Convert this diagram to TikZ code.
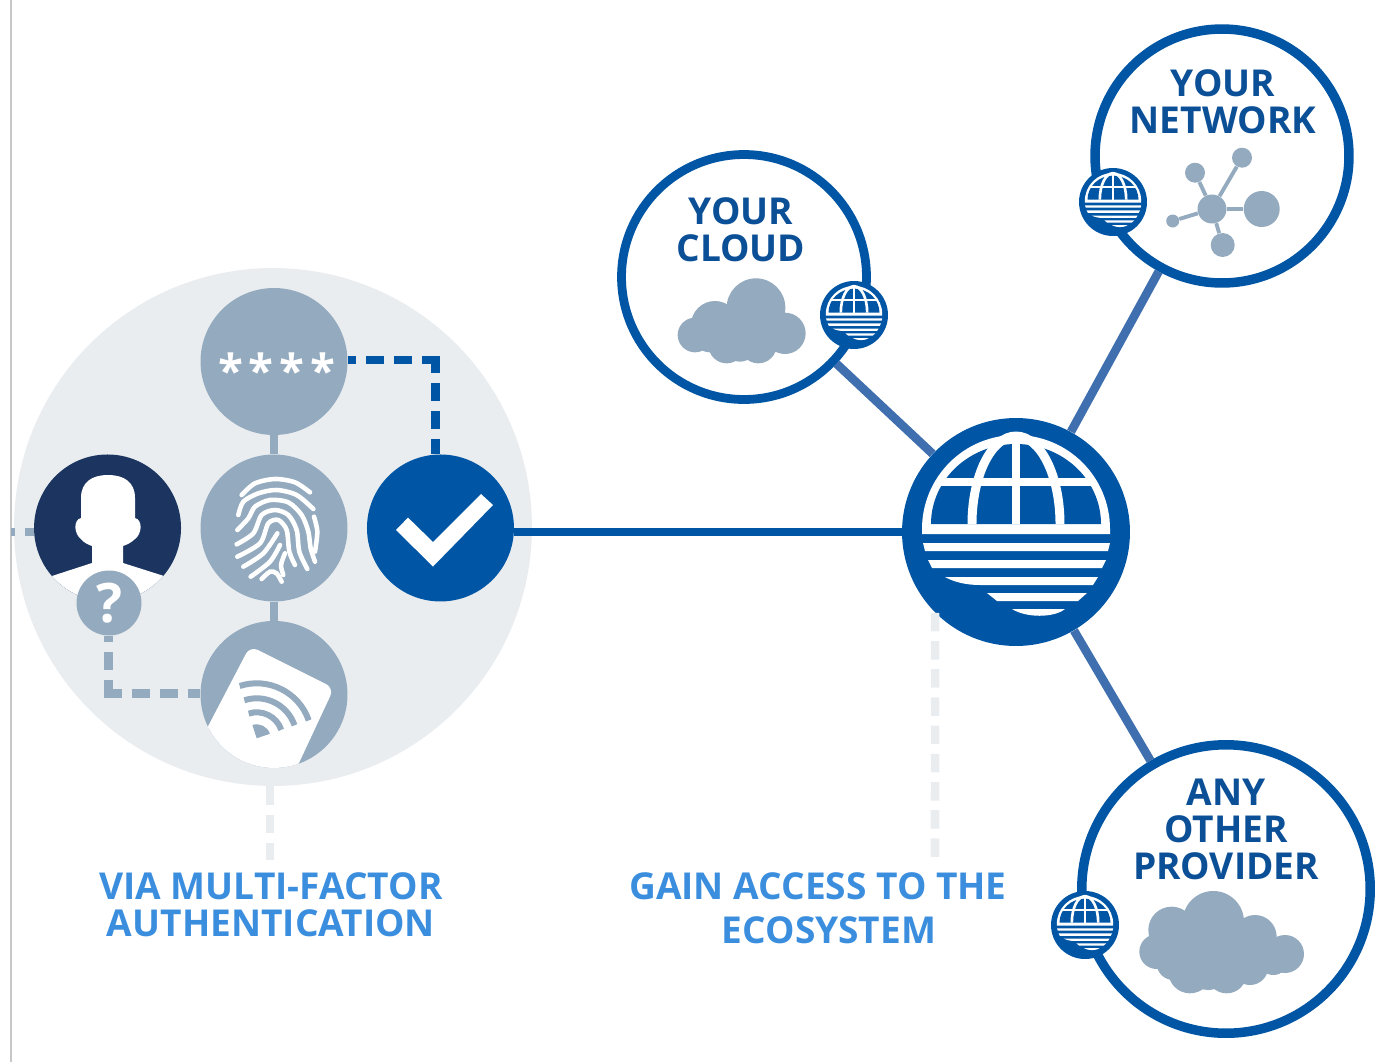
\documentclass[tikz,border=0pt]{standalone}
\usepackage{fontspec}
\setmainfont{Open Sans}
\usepackage{xcolor}
\usepackage{tikz}
\usetikzlibrary{shapes}
\definecolor{hubblue}{HTML}{0055A4}
\definecolor{spokeblue}{HTML}{3F6FAE}
\definecolor{greyblue}{HTML}{94AABF}
\definecolor{palegrey}{HTML}{E9EDF0}
\definecolor{navyblue}{HTML}{1C3560}
\definecolor{labelblue}{HTML}{3B8EDE}
\definecolor{titleblue}{HTML}{0B4F97}
\tikzstyle{disc} = [circle, inner sep=0pt, minimum size=2.94cm, fill=greyblue, text=white]
\tikzstyle{ring} = [circle, inner sep=0pt, draw=hubblue, fill=white, line width=5.4pt]
\tikzstyle{globedisc} = [circle, inner sep=0pt, minimum size=1.36cm, fill=hubblue]
\tikzstyle{title} = [align=center, text=titleblue, font=\bfseries\fontsize{21.1pt}{21pt}\selectfont]
\tikzstyle{label} = [align=center, text=labelblue, font=\bfseries\fontsize{21.1pt}{21pt}\selectfont]
\tikzstyle{bar} = [line width=4.9pt]
\tikzstyle{dashbar} = [bar, dash pattern=on 0.37cm off 0.194cm]
\tikzstyle{ridge} = [draw=white, line width=2.6pt, line cap=round]
\tikzset{pics/globe/.style={code={
  \fill [white] (-94,2) -- (-94,-3) arc[start angle=180, end angle=360, x radius=94, y radius=94] -- (94,2) -- cycle;
  \fill [hubblue] (-85,-8) arc[start angle=180, end angle=360, x radius=85, y radius=80] -- cycle;
  \draw [white, line width=#1pt] (-76,-50) -- (76,-50);
  \draw [white, line width=#1pt] (0,-8) -- (0,-92);
  \draw [white, line width=#1pt] (-44,-8) arc[start angle=180, end angle=360, x radius=44, y radius=88];
  \fill [white] (-93,11) -- (94,11) -- (92,19) -- (-91,19) -- cycle;
  \fill [white] (-88,28) -- (90,28) -- (86,36) -- (-84,36) -- cycle;
  \fill [white] (-71,45) -- (82,45) -- (77,53) -- (-36,53) .. controls (-50,53) and (-62,50) .. (-71,45) -- cycle;
  \fill [white] (-29,61) -- (71,61) -- (62,69) -- (-19,69) -- cycle;
  \fill [white] (-4,77) -- (49,77) .. controls (38,86) and (10,86) .. (-4,77) -- cycle;
}}}

\begin{document}
\begin{tikzpicture}[x=0.02cm, y=-0.02cm, node distance=3.33cm]
\useasboundingbox (0,0) rectangle (1386,1062);
\coordinate (edgetop) at (11,0);
\coordinate (edgebot) at (11,1062);
\draw [black!22, line width=0.6pt] (edgetop) -- (edgebot);

\node (mfa) [circle, inner sep=0pt, minimum size=10.36cm, fill=palegrey] at (273,527) {};
\node (pwd) [disc, font=\bfseries\fontsize{26pt}{26pt}\selectfont] at (274,361.5) {\raisebox{-0.56em}[0pt][0pt]{\hspace*{3pt}*\hspace{3.3pt}*\hspace{3.3pt}*\hspace{3.3pt}*}};
\node (print) [disc, below of=pwd] {};
\node (card) [disc, below of=print] {};
\node (check) [disc, fill=hubblue, right of=print] {};
\node (user) [disc, fill=navyblue, left of=print] {};

% person
\begin{scope}
\clip (user) circle (73.5);
\fill [white] (81,498) .. controls (81,482) and (92,475) .. (108,475) .. controls (124,475) and (135,482) .. (135,498) -- (135,518) .. controls (143,520) and (142,534) .. (135,539) .. controls (131,543) and (126,545) .. (123,546) -- (123,563) -- (164,576) -- (190,610) -- (26,610) -- (52,576) -- (92,563) -- (92,546) .. controls (89,545) and (84,543) .. (81,539) .. controls (74,534) and (73,520) .. (81,518) -- cycle;
\end{scope}
\node (quest) [disc, minimum size=1.3cm, font=\bfseries\fontsize{31pt}{31pt}\selectfont] at (109,603) {?};

% fingerprint
\begin{scope}[shift={(220,465)}, x=0.00667cm, y=-0.00667cm]
\draw [ridge] plot [smooth] coordinates {(65,90) (105,55) (165,42) (225,52) (270,82)};
\draw [ridge] plot [smooth] coordinates {(55,150) (70,110) (115,85) (170,75) (230,90) (280,132)};
\draw [ridge] plot [smooth] coordinates {(52,195) (85,160) (105,125) (150,105) (205,112) (245,150) (265,200) (272,250) (285,290)};
\draw [ridge] plot [smooth] coordinates {(50,238) (100,205) (125,150) (165,135) (205,150) (230,195) (238,260) (262,312)};
\draw [ridge] plot [smooth] coordinates {(52,275) (120,235) (145,175) (175,165) (200,195) (208,260) (225,300)};
\draw [ridge] plot [smooth] coordinates {(70,305) (130,265) (172,205)};
\draw [ridge] plot [smooth] coordinates {(92,335) (150,290) (180,240)};
\draw [ridge] plot [smooth] coordinates {(282,155) (292,200) (285,260)};
\draw [ridge] plot [smooth] coordinates {(195,265) (183,300) (190,330)};
\draw [ridge] plot [smooth] coordinates {(125,342) (150,320) (170,325) (185,350)};
\end{scope}

% card
\begin{scope}
\clip (card) circle (73.5);
\fill [white, rounded corners=5pt] (250,646) -- (334,688) -- (270,825) -- (180,780) -- cycle;
\coordinate (wifi) at (256.7,738.3);
\fill [greyblue] (wifi) -- +(-19:14) arc[start angle=-19, end angle=-108, radius=14] -- cycle;
\draw [greyblue, line width=3.4pt] (wifi) +(-19:26) arc[start angle=-19, end angle=-108, radius=26];
\draw [greyblue, line width=3.4pt] (wifi) +(-19:40) arc[start angle=-19, end angle=-108, radius=40];
\draw [greyblue, line width=3.4pt] (wifi) +(-19:55) arc[start angle=-19, end angle=-108, radius=55];
\end{scope}

% tick
\fill [white] (396,530) -- (408,517.6) -- (433,542) -- (481,494) -- (493,505) -- (433,566.5) -- cycle;

% right side
\node (hub) [globedisc, minimum size=4.56cm] at (1016,532) {};
\node (cloud) [ring, line width=5pt, minimum size=4.9cm] at (744,277) {};
\node (net) [ring, minimum size=5.08cm] at (1222,156) {};
\node (other) [ring, minimum size=5.77cm] at (1226,889) {};

\node (cloudtxt) [title] at (741,230) {YOUR\\CLOUD};
\node (nettxt) [title] at (1223,102) {YOUR\\NETWORK};
\node (othertxt) [title] at (1226,829) {ANY\\OTHER\\PROVIDER};
\node (viatxt) [label] at (271,904.5) {VIA MULTI-FACTOR\\AUTHENTICATION};
\node (gaintxt) [label] at (818,886) {GAIN ACCESS TO THE};
\node (ecotxt) [label] at (829,930) {ECOSYSTEM};
\coordinate (viaend) at (270,860);
\coordinate (gainend) at (935,860);
\coordinate (pwdelbow) at (435.6,360);
\coordinate (questelbow) at (108.5,693.4);

% cloud icons
\begin{scope}[shift={(670,270)}, x=0.00667cm, y=-0.00667cm]
\foreach \cx/\cy/\cr in {75/195/52, 120/195/52, 135/165/72, 258/113/88, 215/180/80, 345/190/62, 170/225/55, 265/225/55, 210/225/50, 305/195/52}
  \fill [greyblue] (\cx,\cy) circle (\cr);
\end{scope}
\begin{scope}[shift={(1040,880)}, x=0.00667cm, y=-0.00667cm]
\foreach \cx/\cy/\cr in {350/215/52, 395/150/70, 520/125/92, 645/170/65, 735/222/57, 450/275/65, 560/280/60, 630/260/55, 700/240/45, 400/250/50, 505/270/60, 500/200/100, 600/210/80}
  \fill [greyblue] (\cx,\cy) circle (\cr);
\end{scope}

% network icon
\node (nodea) [circle, inner sep=0pt, minimum size=0.58cm, fill=greyblue] at (1212,209) {};
\node (nodeb) [circle, inner sep=0pt, minimum size=0.72cm, fill=greyblue] at (1261.7,209) {};
\node (nodec) [circle, inner sep=0pt, minimum size=0.4cm, fill=greyblue] at (1242,157.7) {};
\node (noded) [circle, inner sep=0pt, minimum size=0.4cm, fill=greyblue] at (1195,172.7) {};
\node (nodee) [circle, inner sep=0pt, minimum size=0.26cm, fill=greyblue] at (1172.7,221) {};
\node (nodef) [circle, inner sep=0pt, minimum size=0.48cm, fill=greyblue] at (1222.7,245) {};
\foreach \leaf in {nodeb,nodec,noded,nodee,nodef}
  \draw [greyblue, line width=2.2pt] (nodea) -- (\leaf);

%---------------------------------CONNECTORS
\draw [bar, greyblue] (pwd) -- (print);
\draw [bar, greyblue] (print) -- (card);
\draw [bar, hubblue] (check.east |- hub) -- (hub.west);
\draw [bar, spokeblue] (hub) -- ([yshift=0.04cm]cloud);
\draw [bar, spokeblue] (hub) -- ([xshift=0.14cm]net);
\draw [bar, spokeblue] (hub) -- ([xshift=-0.28cm]other);
\draw [dashbar, hubblue, dash phase=0.21cm, shorten >=-0.086cm] (pwd.east |- pwdelbow) -- (pwdelbow);
\draw [dashbar, hubblue, dash phase=0.11cm] (pwdelbow) -- (pwdelbow |- check.north);
\draw [dashbar, greyblue, dash phase=0.25cm, shorten >=-0.086cm] (quest.south -| questelbow) -- (questelbow);
\draw [dashbar, greyblue, dash phase=0.1cm] (questelbow) -- (card.west |- questelbow);
\draw [dashbar, greyblue, dash phase=0.28cm] (edgetop |- hub) -- (user.west |- hub);
\draw [dashbar, palegrey] (mfa.south -| viaend) -- (viaend);
\draw [dashbar, palegrey] (hub.south west) -- (gainend);

%---------------------------------GLOBES
\node (cloudglobe) [globedisc] at (854,315) {};
\node (netglobe) [globedisc] at (1113,202) {};
\node (otherglobe) [globedisc] at (1085,925) {};
\pic [scale=1] at (hub) {globe=5.1};
\pic [scale=0.3] at (cloudglobe) {globe=1.5};
\pic [scale=0.3] at (netglobe) {globe=1.5};
\pic [scale=0.3] at (otherglobe) {globe=1.5};
\end{tikzpicture}
\end{document}
